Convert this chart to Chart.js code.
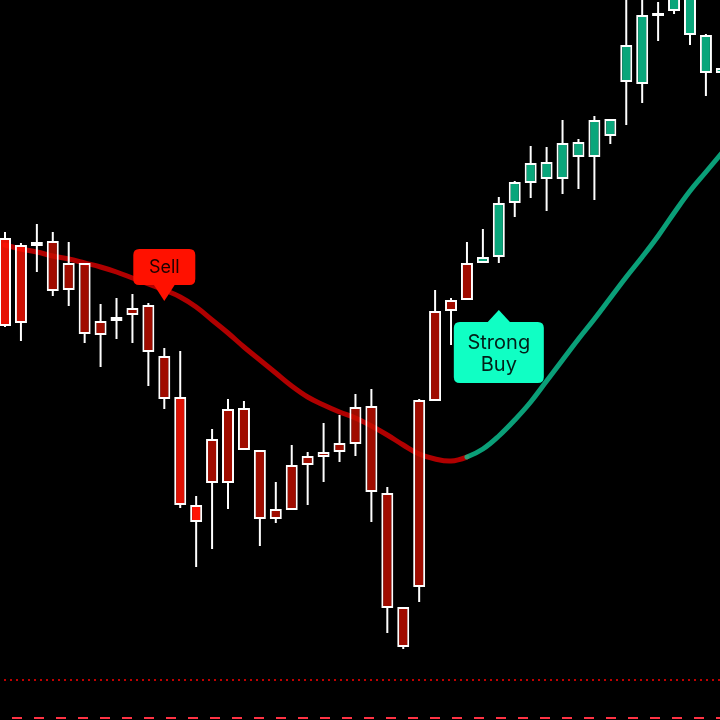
<!DOCTYPE html>
<html>
<head>
<meta charset="utf-8">
<script src="https://cdn.jsdelivr.net/npm/chart.js@4.4.1/dist/chart.umd.min.js"></script>
<style>
  html, body { margin: 0; padding: 0; background: #000; }
  #wrap { width: 720px; height: 720px; }
</style>
</head>
<body>
<div id="wrap"><canvas id="chart" width="720" height="720"></canvas></div>
<script>
// Candles (one per bar, oldest first)
const opens  = [482, 475, 478, 479, 457, 457, 399, 403, 412, 415, 364, 323, 215, 281, 311, 312, 270, 211, 255, 264,
                268, 277, 313, 314, 227, 113, 320, 409, 420, 457, 457, 463, 517, 537, 541, 541, 563, 563, 584, 638,
                636, 704, 709, 685, 647, 647];
const highs  = [488, 477, 496, 488, 478, 457, 416, 422, 426, 417, 372, 369, 224, 291, 321, 319, 270, 238, 275, 268,
                297, 305, 326, 331, 233, 113, 321, 430, 422, 478, 491, 523, 539, 574, 573, 600, 581, 604, 601, 740,
                740, 718, 760, 750, 686, 665];
const lows   = [393, 379, 448, 424, 414, 377, 353, 381, 377, 334, 311, 212, 153, 171, 211, 270, 174, 197, 210, 215,
                238, 258, 264, 198,  87,  71, 118, 319, 375, 420, 457, 457, 503, 522, 509, 526, 531, 520, 576, 595,
                617, 679, 706, 675, 624, 635];
const closes = [394, 397, 474, 429, 430, 386, 385, 399, 405, 368, 321, 215, 198, 237, 237, 270, 201, 201, 210, 255,
                263, 268, 276, 228, 112,  73, 133, 319, 409, 420, 463, 517, 538, 557, 558, 577, 578, 600, 601, 675,
                705, 707, 745, 735, 685, 652];

// Moving average
const maValues = [475, 471, 468, 464, 461, 457, 453, 448, 442, 436, 430, 423, 413, 400, 387, 373, 360, 347, 334, 323,
                  315, 308, 302, 294, 285, 275, 266, 261, 259, 263, 271, 284, 300, 318, 339, 360, 381, 401, 422, 443,
                  463, 484, 507, 529, 548, 567];
const maTurnBar = 29; // MA turns green from here

// Horizontal levels
const dottedLevel = 40;
const dashedLevel = 2;

// Signals: bar position, price at the pointer tip, text lines
const signalBars = [10, 31];
const signalPrices = [419, 410];
const signalTexts = [['Sell'], ['Strong', 'Buy']];

const xMin = -0.314, xMax = 44.885;
const idx = opens.map((_, i) => i);

const RED = 'rgba(200,15,0,0.8)';
const GREEN = '#0aa67b';
// brighter red bodies on a few bars
const redAlpha = { 0: 0.9, 1: 0.8, 11: 0.87, 12: 1 };

function bodyColor(ctx) {
  const i = ctx.dataIndex;
  if (closes[i] >= opens[i]) return GREEN;
  if (redAlpha[i] !== undefined) return 'rgba(255,20,5,' + redAlpha[i] + ')';
  return RED;
}

const signalStyle = [
  { fill: '#ff1100', w: 62, h: 36, tip: 16, up: false, font: '18px Inter', lh: 0 },
  { fill: '#10ffc4', w: 90, h: 61, tip: 12, up: true, font: '20px Inter', lh: 22 }
];

function roundRect(ctx, x, y, w, h, r) {
  ctx.beginPath();
  ctx.moveTo(x + r, y);
  ctx.lineTo(x + w - r, y);
  ctx.quadraticCurveTo(x + w, y, x + w, y + r);
  ctx.lineTo(x + w, y + h - r);
  ctx.quadraticCurveTo(x + w, y + h, x + w - r, y + h);
  ctx.lineTo(x + r, y + h);
  ctx.quadraticCurveTo(x, y + h, x, y + h - r);
  ctx.lineTo(x, y + r);
  ctx.quadraticCurveTo(x, y, x + r, y);
  ctx.closePath();
}

const signalPlugin = {
  id: 'signals',
  afterDatasetsDraw(chart) {
    const { ctx, scales: { x, y } } = chart;
    ctx.save();
    signalBars.forEach((bar, k) => {
      const s = signalStyle[k];
      const px = x.getPixelForValue(bar);
      const py = y.getPixelForValue(signalPrices[k]);
      const top = s.up ? py + s.tip : py - s.tip - s.h;
      ctx.fillStyle = s.fill;
      roundRect(ctx, px - s.w / 2, top, s.w, s.h, 6);
      ctx.fill();
      // pointer
      ctx.beginPath();
      if (s.up) {
        ctx.moveTo(px - 12, top + 1);
        ctx.lineTo(px, py);
        ctx.lineTo(px + 12, top + 1);
      } else {
        ctx.moveTo(px - 11, top + s.h - 1);
        ctx.lineTo(px, py);
        ctx.lineTo(px + 11, top + s.h - 1);
      }
      ctx.closePath();
      ctx.fill();
      // text
      ctx.fillStyle = 'rgba(0,0,0,0.88)';
      ctx.font = s.font;
      ctx.textAlign = 'center';
      ctx.textBaseline = 'middle';
      const lines = signalTexts[k];
      const mid = top + s.h / 2;
      lines.forEach((t, j) => {
        ctx.fillText(t, px, mid + (j - (lines.length - 1) / 2) * s.lh + 1);
      });
    });
    ctx.restore();
  }
};

new Chart(document.getElementById('chart'), {
  type: 'bar',
  data: {
    datasets: [
      {
        type: 'bar',
        label: 'Body',
        data: idx.map(i => ({ x: i, y: [opens[i], closes[i]] })),
        backgroundColor: bodyColor,
        borderColor: '#fff',
        borderWidth: 2,
        borderSkipped: false,
        barThickness: 12,
        inflateAmount: 0,
        grouped: false,
        order: 1
      },
      {
        type: 'bar',
        label: 'Upper wick',
        data: idx.map(i => ({ x: i, y: [Math.max(opens[i], closes[i]), highs[i]] })),
        backgroundColor: '#fff',
        borderWidth: 0,
        barThickness: 2,
        inflateAmount: 0,
        grouped: false,
        order: 2
      },
      {
        type: 'bar',
        label: 'Lower wick',
        data: idx.map(i => ({ x: i, y: [lows[i], Math.min(opens[i], closes[i])] })),
        backgroundColor: '#fff',
        borderWidth: 0,
        barThickness: 2,
        inflateAmount: 0,
        grouped: false,
        order: 2
      },
      {
        type: 'line',
        label: 'MA',
        data: idx.map(i => ({ x: i, y: maValues[i] })),
        borderWidth: 5,
        borderCapStyle: 'round',
        pointRadius: 0,
        tension: 0.4,
        segment: {
          borderColor: c => c.p0DataIndex >= maTurnBar ? 'rgba(13,199,150,0.8)' : 'rgba(220,0,0,0.8)'
        },
        order: 3
      },
      {
        type: 'line',
        label: 'Dotted',
        data: [{ x: xMin, y: dottedLevel }, { x: xMax, y: dottedLevel }],
        borderColor: '#c00000',
        borderWidth: 2,
        borderDash: [2, 4],
        borderDashOffset: 2,
        pointRadius: 0,
        order: 4
      },
      {
        type: 'line',
        label: 'Dashed',
        data: [{ x: xMin, y: dashedLevel }, { x: xMax, y: dashedLevel }],
        borderColor: '#ff3344',
        borderWidth: 2,
        borderDash: [10, 12],
        borderDashOffset: 10,
        pointRadius: 0,
        order: 4
      }
    ]
  },
  options: {
    responsive: false,
    animation: false,
    devicePixelRatio: 1,
    layout: { padding: 0 },
    plugins: { legend: { display: false }, tooltip: { enabled: false } },
    scales: {
      x: { type: 'linear', min: xMin, max: xMax, offset: false, display: false },
      y: { type: 'linear', min: 0, max: 720, display: false }
    }
  },
  plugins: [signalPlugin]
});
</script>
</body>
</html>
